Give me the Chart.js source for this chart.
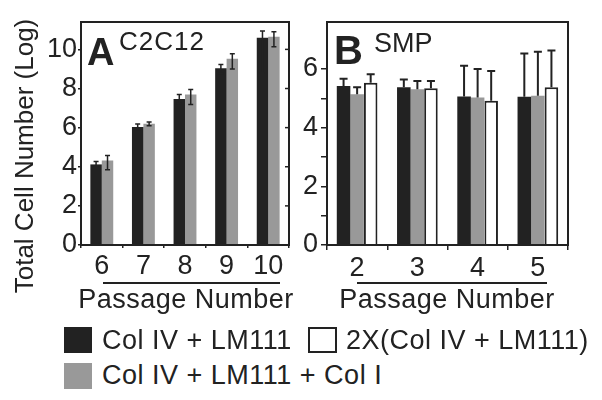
<!DOCTYPE html>
<html>
<head>
<meta charset="utf-8">
<script src="https://cdn.jsdelivr.net/npm/chart.js@4.4.0/dist/chart.umd.min.js"></script>
<style>
  body { margin: 0; background: #fff; }
  #wrap { position: relative; width: 602px; height: 400px; overflow: hidden; font-family: "Liberation Sans", Arial, sans-serif; color: #222; }
  canvas { position: absolute; top: 0; }
  .t { position: absolute; white-space: nowrap; line-height: 1; }
  .wide { letter-spacing: 0.5px; }
  .sq { position: absolute; box-sizing: border-box; }
  .rule { position: absolute; height: 0; border-top: 2px solid #222; }
</style>
</head>
<body>
<div id="wrap">
  <canvas id="chartA" width="300" height="280" style="left:0"></canvas>
  <canvas id="chartB" width="302" height="280" style="left:300px"></canvas>

  <div class="t" style="left:-126px;top:141px;width:300px;line-height:30px;text-align:center;font-size:26px;transform:rotate(-90deg)">Total Cell Number (Log)</div>

  <div class="t" style="left:87px;top:33px;font-size:38px;font-weight:bold">A</div>
  <div class="t" style="left:119px;top:28px;font-size:26px;letter-spacing:1px">C2C12</div>
  <div class="t" style="left:334px;top:30px;font-size:40px;font-weight:bold">B</div>
  <div class="t" style="left:374px;top:30px;font-size:27px">SMP</div>

  <div class="rule" style="left:103px;top:282px;width:177px"></div>
  <div class="rule" style="left:357px;top:282px;width:190px"></div>
  <div class="t wide" style="left:36px;top:286px;width:300px;text-align:center;font-size:27px">Passage Number</div>
  <div class="t wide" style="left:297px;top:286px;width:300px;text-align:center;font-size:27px">Passage Number</div>

  <div class="sq" style="left:64px;top:327px;width:28px;height:26px;background:#222"></div>
  <div class="t wide" style="left:102px;top:327px;font-size:27px">Col IV + LM111</div>
  <div class="sq" style="left:308px;top:327px;width:29px;height:26px;border:2px solid #222;background:#fff"></div>
  <div class="t wide" style="left:346px;top:327px;font-size:27px">2X(Col IV + LM111)</div>
  <div class="sq" style="left:64px;top:363px;width:28px;height:26px;background:#999"></div>
  <div class="t wide" style="left:102px;top:362px;font-size:27px">Col IV + LM111 + Col I</div>
</div>

<script>
// panel A - C2C12
const passagesA = ['6', '7', '8', '9', '10'];
const c2c12Col4Lm = [4.12, 6.03, 7.47, 9.03, 10.6];
const c2c12Col4LmHi = [4.27, 6.19, 7.69, 9.23, 10.94];
const c2c12Col4LmLo = [4.02, 5.9, 7.23, 8.77, 8.8];
const c2c12Col4LmCol1 = [4.32, 6.2, 7.69, 9.52, 10.65];
const c2c12Col4LmCol1Hi = [4.58, 6.29, 7.95, 9.78, 10.9];
const c2c12Col4LmCol1Lo = [3.85, 6.1, 7.18, 9.0, 10.14];
const yLabelsA = [0, 2, 4, 6, 8, 10];

// panel B - SMP
const passagesB = ['2', '3', '4', '5'];
const smpCol4Lm = [5.42, 5.38, 5.06, 5.05];
const smpCol4LmHi = [5.67, 5.64, 6.11, 6.53];
const smpCol4LmCol1 = [5.14, 5.31, 5.03, 5.09];
const smpCol4LmCol1Hi = [5.38, 5.59, 6.0, 6.59];
const smpDouble = [5.53, 5.34, 4.92, 5.38];
const smpDoubleHi = [5.82, 5.59, 5.93, 6.63];
const yLabelsB = [0, 2, 4, 6];

const ink = '#222';
Chart.defaults.font.family = '"Liberation Sans", Arial, sans-serif';
Chart.defaults.color = ink;

// error bars, drawn from the dataset's errHi / errLo arrays
const errorBars = {
    id: 'errorBars',
    afterDatasetsDraw(chart, args, opts) {
        const ctx = chart.ctx;
        const y = chart.scales.y;
        ctx.save();
        ctx.strokeStyle = ink;
        ctx.lineWidth = opts.width;
        chart.data.datasets.forEach((ds, i) => {
            const meta = chart.getDatasetMeta(i);
            meta.data.forEach((bar, j) => {
                const top = y.getPixelForValue(ds.errHi[j]);
                const bot = ds.errLo ? y.getPixelForValue(ds.errLo[j]) : bar.y;
                ctx.beginPath();
                ctx.moveTo(bar.x, top);
                ctx.lineTo(bar.x, bot);
                ctx.moveTo(bar.x - opts.cap, top);
                ctx.lineTo(bar.x + opts.cap, top);
                if (ds.errLo) {
                    ctx.moveTo(bar.x - opts.cap, bot);
                    ctx.lineTo(bar.x + opts.cap, bot);
                }
                ctx.stroke();
            });
        });
        ctx.restore();
    }
};

// box round the plot, plus inward ticks on the right for panel A
const frame = {
    id: 'frame',
    afterDraw(chart, args, opts) {
        const a = chart.chartArea;
        const ctx = chart.ctx;
        ctx.save();
        ctx.strokeStyle = ink;
        ctx.lineWidth = 2;
        ctx.strokeRect(a.left, a.top, a.right - a.left, a.bottom - a.top);
        if (opts.rightTicks) {
            ctx.lineWidth = 1.5;
            chart.scales.y.ticks.forEach(t => {
                const py = chart.scales.y.getPixelForValue(t.value);
                ctx.beginPath();
                ctx.moveTo(a.right - 4, py);
                ctx.lineTo(a.right, py);
                ctx.stroke();
            });
        }
        ctx.restore();
    }
};

function makeScales(opt) {
    return {
        x: {
            offset: true,
            grid: { offset: true, drawOnChartArea: false, tickLength: opt.xTick, color: ink, lineWidth: 1.5 },
            border: { display: true, color: ink, width: 2 },
            ticks: { font: { size: 27 }, padding: 2, maxRotation: 0, autoSkip: false },
            afterFit: s => { s.height = opt.xHeight; }
        },
        y: {
            min: 0,
            max: opt.max,
            grid: { drawOnChartArea: false, tickLength: opt.yTick, color: ink, lineWidth: 1.5 },
            border: { display: true, color: ink, width: 2 },
            ticks: {
                stepSize: 1,
                font: { size: 27 },
                padding: opt.yPad,
                callback: v => opt.labels.includes(v) ? String(v) : ''
            },
            afterBuildTicks: s => { s.ticks = s.ticks.filter(t => Number.isInteger(t.value)); },
            afterFit: s => { s.width = opt.yWidth; }
        }
    };
}

new Chart(document.getElementById('chartA'), {
    type: 'bar',
    data: {
        labels: passagesA,
        datasets: [
            { label: 'Col IV + LM111', data: c2c12Col4Lm, errHi: c2c12Col4LmHi, errLo: c2c12Col4LmLo, backgroundColor: ink },
            { label: 'Col IV + LM111 + Col I', data: c2c12Col4LmCol1, errHi: c2c12Col4LmCol1Hi, errLo: c2c12Col4LmCol1Lo, backgroundColor: '#999' }
        ]
    },
    options: {
        responsive: false,
        animation: false,
        layout: { padding: { top: 22, right: 11, left: 0, bottom: 0 } },
        datasets: { bar: { categoryPercentage: 0.55, barPercentage: 1 } },
        plugins: {
            legend: { display: false },
            tooltip: { enabled: false },
            errorBars: { width: 1.5, cap: 2.5 },
            frame: { rightTicks: true }
        },
        scales: makeScales({ max: 11.4, labels: yLabelsA, xTick: 3, yTick: 3, yPad: 1, yWidth: 81, xHeight: 35 })
    },
    plugins: [errorBars, frame]
});

new Chart(document.getElementById('chartB'), {
    type: 'bar',
    data: {
        labels: passagesB,
        datasets: [
            { label: 'Col IV + LM111', data: smpCol4Lm, errHi: smpCol4LmHi, backgroundColor: ink },
            { label: 'Col IV + LM111 + Col I', data: smpCol4LmCol1, errHi: smpCol4LmCol1Hi, backgroundColor: '#999' },
            { label: '2X(Col IV + LM111)', data: smpDouble, errHi: smpDoubleHi, backgroundColor: '#fff', borderColor: ink, borderWidth: 2 }
        ]
    },
    options: {
        responsive: false,
        animation: false,
        layout: { padding: { top: 22, right: 34, left: 0, bottom: 0 } },
        datasets: { bar: { categoryPercentage: 0.675, barPercentage: 1 } },
        plugins: {
            legend: { display: false },
            tooltip: { enabled: false },
            errorBars: { width: 2, cap: 4 },
            frame: { rightTicks: false }
        },
        scales: makeScales({ max: 7.6, labels: yLabelsB, xTick: 5, yTick: 6, yPad: 3, yWidth: 27, xHeight: 35 })
    },
    plugins: [errorBars, frame]
});
</script>
</body>
</html>
